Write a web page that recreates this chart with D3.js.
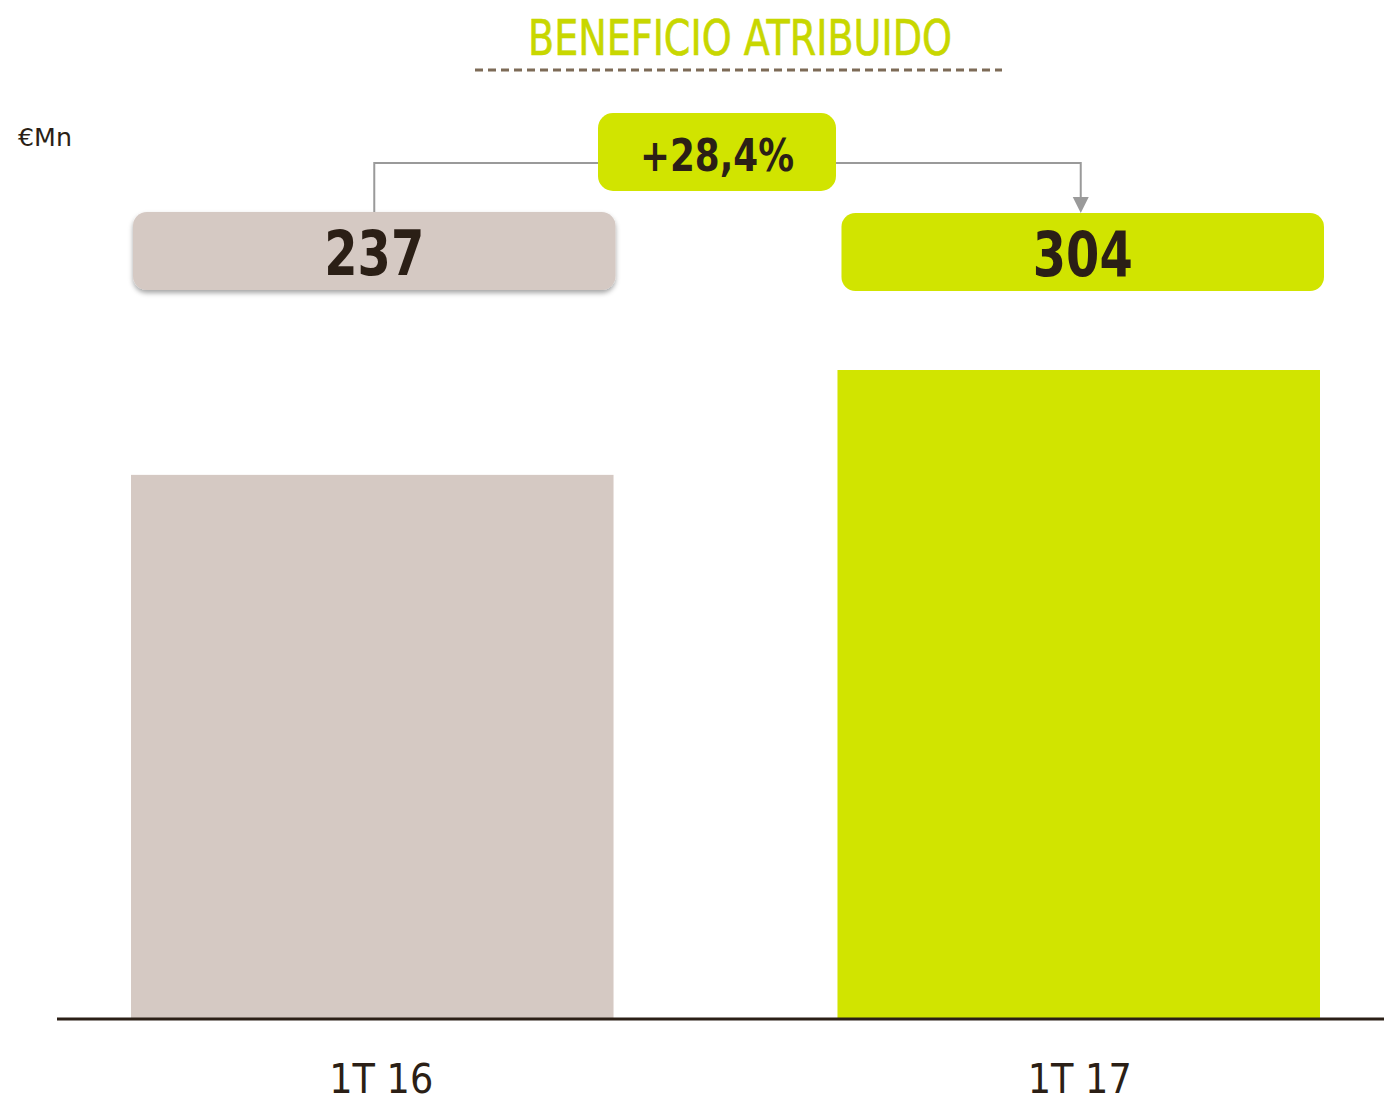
<!DOCTYPE html>
<html>
<head>
<meta charset="utf-8">
<script src="https://cdn.jsdelivr.net/npm/d3@7"></script>
<style>
  html, body { margin: 0; padding: 0; background: #fff; }
  svg { display: block; }
</style>
</head>
<body>
<svg id="chart" width="1384" height="1103"></svg>
<script>
// Beneficio atribuido, €Mn
const categories = ["1T 16", "1T 17"];
const values = [237, 304];
const valueLabels = ["237", "304"];
const changeLabel = "+28,4%";
const title = "BENEFICIO ATRIBUIDO";
const unitLabel = "€Mn";

const GREEN = "#d1e400";
const BEIGE = "#d5c9c3";
const INK = "#2b1f16";
const CONNECTOR = "#9a9a9a";
const condensed = "'DejaVu Sans Condensed', 'Liberation Sans Narrow', 'DejaVu Sans', sans-serif";

const svg = d3.select("#chart");

const defs = svg.append("defs");
const shadow = defs.append("filter").attr("id", "shadow")
  .attr("x", "-5%").attr("y", "-20%").attr("width", "110%").attr("height", "150%");
shadow.append("feDropShadow").attr("dx", 0).attr("dy", 3).attr("stdDeviation", 2.5)
  .attr("flood-color", "#000").attr("flood-opacity", 0.35);

// scales
const x = d3.scaleBand().domain(categories).range([131, 1320]).paddingInner(0.317).paddingOuter(0);
const y = d3.scaleLinear().domain([-110, 304]).range([1018, 370]);
const colors = [BEIGE, GREEN];

// title + dashed rule
svg.append("text")
  .attr("x", 740).attr("y", 55)
  .attr("text-anchor", "middle")
  .attr("font-family", condensed)
  .attr("font-size", 49)
  .attr("textLength", 424).attr("lengthAdjust", "spacingAndGlyphs")
  .attr("fill", "#c8d700")
  .attr("stroke", "#c8d700").attr("stroke-width", 0.6)
  .text(title);
svg.append("line")
  .attr("x1", 475).attr("x2", 1002).attr("y1", 70).attr("y2", 70)
  .attr("stroke", "#7d6b57").attr("stroke-width", 3)
  .attr("stroke-dasharray", "8,5");

// unit
svg.append("text")
  .attr("x", 18).attr("y", 146)
  .attr("font-family", condensed)
  .attr("font-size", 25)
  .attr("textLength", 54).attr("lengthAdjust", "spacingAndGlyphs")
  .attr("fill", INK)
  .text(unitLabel);

// bars
svg.append("g").selectAll("rect").data(values).join("rect")
  .attr("x", (d, i) => x(categories[i]))
  .attr("width", x.bandwidth())
  .attr("y", d => y(d))
  .attr("height", d => y(-110) - y(d))
  .attr("fill", (d, i) => colors[i]);

// baseline
svg.append("line")
  .attr("x1", 57).attr("x2", 1384).attr("y1", 1019).attr("y2", 1019)
  .attr("stroke", INK).attr("stroke-width", 3);

// category labels
const xAxis = d3.axisBottom(x).tickSize(0).tickPadding(0);
const ax = svg.append("g").attr("transform", "translate(0,1093)").call(xAxis);
ax.select(".domain").remove();
ax.selectAll(".tick").attr("transform", (d, i) => `translate(${x(d) + x.bandwidth() / 2 + (i === 0 ? 9 : 1)},0)`);
ax.selectAll("text")
  .attr("dy", 0)
  .attr("font-family", condensed)
  .attr("font-size", 41)
  .attr("fill", INK)
  .attr("textLength", 104).attr("lengthAdjust", "spacingAndGlyphs");

// value boxes
const boxH = 78;
const boxTop = [212, 213];
const boxes = svg.append("g").selectAll("g").data(values).join("g");
boxes.append("rect")
  .attr("x", (d, i) => x(categories[i]) + 2 + i * 2)
  .attr("y", (d, i) => boxTop[i])
  .attr("width", x.bandwidth())
  .attr("height", boxH)
  .attr("rx", 14)
  .attr("fill", (d, i) => colors[i])
  .attr("filter", (d, i) => i === 0 ? "url(#shadow)" : null);
boxes.append("text")
  .attr("x", (d, i) => x(categories[i]) + x.bandwidth() / 2 + 2 + i * 2)
  .attr("y", (d, i) => boxTop[i] + 63)
  .attr("text-anchor", "middle")
  .attr("font-family", condensed)
  .attr("font-weight", "bold")
  .attr("font-size", 62)
  .attr("fill", INK)
  .attr("textLength", 100).attr("lengthAdjust", "spacingAndGlyphs")
  .text((d, i) => valueLabels[i]);

// growth connector
const cx0 = x(categories[0]) + x.bandwidth() / 2 + 2;
const cx1 = x(categories[1]) + x.bandwidth() / 2 + 2;
const lineY = 163;
svg.append("path")
  .attr("d", `M${cx0},${boxTop[0]}V${lineY}H${cx1}V${boxTop[1] - 14}`)
  .attr("fill", "none").attr("stroke", CONNECTOR).attr("stroke-width", 2);
svg.append("path")
  .attr("d", `M${cx1 - 8},${boxTop[1] - 16}L${cx1 + 8},${boxTop[1] - 16}L${cx1},${boxTop[1]}Z`)
  .attr("fill", CONNECTOR);

// growth badge
const badge = svg.append("g");
badge.append("rect")
  .attr("x", 598).attr("y", 113).attr("width", 238).attr("height", 78)
  .attr("rx", 15).attr("fill", GREEN);
badge.append("text")
  .attr("x", 717).attr("y", 171)
  .attr("text-anchor", "middle")
  .attr("font-family", condensed)
  .attr("font-weight", "bold")
  .attr("font-size", 44)
  .attr("fill", INK)
  .attr("textLength", 154).attr("lengthAdjust", "spacingAndGlyphs")
  .text(changeLabel);
</script>
</body>
</html>
